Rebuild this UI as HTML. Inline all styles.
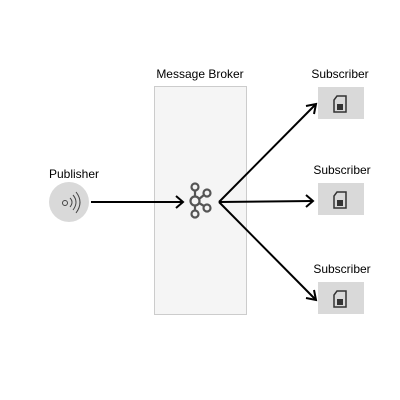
<html><body style="margin:0;background:#fff">
<svg width="400" height="400" xmlns="http://www.w3.org/2000/svg" font-family="Liberation Sans, sans-serif" font-size="12">
<rect x="154.5" y="86.5" width="92" height="228" fill="#f5f5f5" stroke="#ccc"/>
<text x="200" y="78" text-anchor="middle">Message Broker</text>
<text x="74" y="178" text-anchor="middle">Publisher</text>
<circle cx="69" cy="202" r="20" fill="#d9d9d9"/>
<g stroke="#444" fill="none" stroke-width="1">
<circle cx="65" cy="203" r="2.5"/>
<path d="M70 198 Q74 202 70 207 M73 195 Q79 202 73 210 M76 192 Q84 202 76 213"/>
</g>
<g stroke="#000" stroke-width="2" fill="none">
<line x1="91" y1="202" x2="182" y2="202"/><path d="M176 196 L183 202 L176 208"/>
<line x1="219" y1="202" x2="315" y2="105"/><path d="M306 106 L316 104 L314 114"/>
<line x1="219" y1="202" x2="313" y2="201"/><path d="M306 195 L313 201 L306 207"/>
<line x1="219" y1="202" x2="315" y2="299"/><path d="M306 298 L316 300 L314 290"/>
</g>
<g stroke="#555" stroke-width="2.2" fill="none">
<circle cx="195" cy="187" r="3.5"/><circle cx="195" cy="201" r="4.5"/><circle cx="195" cy="214" r="3.5"/>
<circle cx="207" cy="193" r="3.5"/><circle cx="207" cy="208" r="3.5"/>
<line x1="195" y1="190" x2="195" y2="197"/><line x1="195" y1="205" x2="195" y2="211"/>
<line x1="199" y1="199" x2="204" y2="195"/><line x1="199" y1="203" x2="204" y2="206"/>
</g>
<g>
<text x="340" y="78" text-anchor="middle">Subscriber</text>
<rect x="318" y="87" width="46" height="32" fill="#d9d9d9"/>
<text x="342" y="174" text-anchor="middle">Subscriber</text>
<rect x="318" y="183" width="46" height="32" fill="#d9d9d9"/>
<text x="342" y="273" text-anchor="middle">Subscriber</text>
<rect x="318" y="282" width="46" height="32" fill="#d9d9d9"/>
</g>
<g stroke="#333" stroke-width="1.5" fill="none">
<path d="M337 96 h9 v16 h-12 v-12 z"/><path d="M337 192 h9 v16 h-12 v-12 z"/><path d="M337 291 h9 v16 h-12 v-12 z"/>
</g>
<g fill="#333">
<rect x="337" y="104" width="6" height="6"/><rect x="337" y="200" width="6" height="6"/><rect x="337" y="299" width="6" height="6"/>
</g>
</svg>
</body></html>
